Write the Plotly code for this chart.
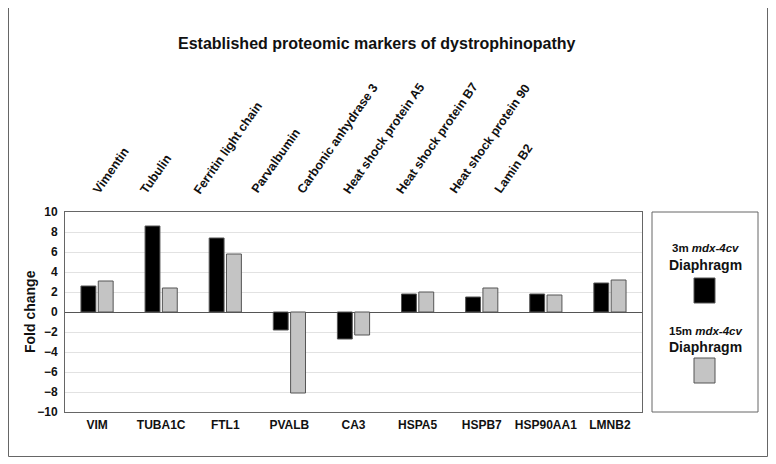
import plotly.graph_objects as go

genes = ["VIM", "TUBA1C", "FTL1", "PVALB", "CA3", "HSPA5", "HSPB7", "HSP90AA1", "LMNB2"]
protein_names = ["Vimentin", "Tubulin", "Ferritin light chain", "Parvalbumin",
                 "Carbonic anhydrase 3", "Heat shock protein A5", "Heat shock protein B7",
                 "Heat shock protein 90", "Lamin B2"]
fold_3m = [2.6, 8.6, 7.4, -1.8, -2.7, 1.8, 1.5, 1.8, 2.9]
fold_15m = [3.1, 2.4, 5.8, -8.1, -2.3, 2.0, 2.4, 1.7, 3.2]
series_names = ["3m <i>mdx-4cv</i>", "15m <i>mdx-4cv</i>"]
y_ticks = [-10, -8, -6, -4, -2, 0, 2, 4, 6, 8, 10]

# page body has an 8px margin; work in window pixels and subtract it
OFF = 8
W, H = 762, 452
L, R, T, B = 65 - OFF, 642 - OFF, 212 - OFF, 412 - OFF

def px(x):
    return (x - OFF - L) / (R - L)

def py(y):
    return (B - (y - OFF)) / (B - T)

FONT = "Liberation Sans, Arial, sans-serif"

fig = go.Figure()
fig.add_trace(go.Bar(x=genes, y=fold_3m, name="3m mdx-4cv",
                     marker=dict(color="#000000", line=dict(color="#555555", width=1))))
fig.add_trace(go.Bar(x=genes, y=fold_15m, name="15m mdx-4cv",
                     marker=dict(color="#c4c4c4", line=dict(color="#555555", width=1))))

fig.update_layout(
    width=W, height=H,
    margin=dict(l=L, r=W - R, t=T, b=H - B, pad=0),
    paper_bgcolor="white", plot_bgcolor="white",
    barmode="group", bargap=0.46, bargroupgap=0.14,
    showlegend=False,
    font=dict(family=FONT, color="#111111"),
    xaxis=dict(showline=True, linecolor="#666666", linewidth=1, mirror=True,
               ticks="", tickfont=dict(size=12, weight="bold"), showgrid=False,
               ticklabelstandoff=2),
    yaxis=dict(range=[-10, 10], tickvals=y_ticks, showline=True, linecolor="#666666",
               linewidth=1, mirror=True, ticks="", showgrid=True, gridcolor="#e2e2e2",
               zeroline=True, zerolinecolor="#555555", zerolinewidth=1,
               tickfont=dict(size=12, weight="bold"), ticklabelstandoff=4),
)

annotations = []
annotations.append(dict(text="Established proteomic markers of dystrophinopathy",
                        xref="paper", yref="paper", x=px(377), y=py(44),
                        xanchor="center", yanchor="middle", showarrow=False,
                        font=dict(size=16, weight="bold", color="#111111")))
annotations.append(dict(text="Fold change", xref="paper", yref="paper",
                        x=px(30), y=py(312), xanchor="center", yanchor="middle",
                        textangle=-90, showarrow=False,
                        font=dict(size=14, weight="bold", color="#111111")))

label_x = [88, 135, 188, 246, 291, 338, 391, 444, 489]
for name, lx in zip(protein_names, label_x):
    annotations.append(dict(text=name, xref="paper", yref="paper", x=px(lx), y=py(199),
                            xanchor="left", yanchor="bottom", textangle=-55,
                            showarrow=False, font=dict(size=12.5, weight="bold", color="#111111")))

legend_entries = [(series_names[0], 248, 265, 278, 303, "#000000"),
                  (series_names[1], 331, 347, 358, 383, "#c4c4c4")]
shapes = []
for label, ys, yd, y0, y1, col in legend_entries:
    annotations.append(dict(text="<b>" + label + "</b>", xref="paper", yref="paper",
                            x=px(705), y=py(ys), xanchor="center", yanchor="middle",
                            showarrow=False, font=dict(size=11.5, color="#111111")))
    annotations.append(dict(text="Diaphragm", xref="paper", yref="paper",
                            x=px(705), y=py(yd), xanchor="center", yanchor="middle",
                            showarrow=False, font=dict(size=14, weight="bold", color="#111111")))
    shapes.append(dict(type="rect", xref="paper", yref="paper", x0=px(694), x1=px(715),
                       y0=py(y1), y1=py(y0), fillcolor=col, line=dict(color="#555555", width=1)))

shapes.append(dict(type="rect", xref="paper", yref="paper", x0=px(652), x1=px(758),
                   y0=py(412), y1=py(212), line=dict(color="#666666", width=1)))
shapes.append(dict(type="rect", xref="paper", yref="paper", x0=px(8.5), x1=px(767.5),
                   y0=py(456.5), y1=py(7.5), line=dict(color="#666666", width=1)))

fig.update_layout(annotations=annotations, shapes=shapes)
fig.write_html("out.html")
